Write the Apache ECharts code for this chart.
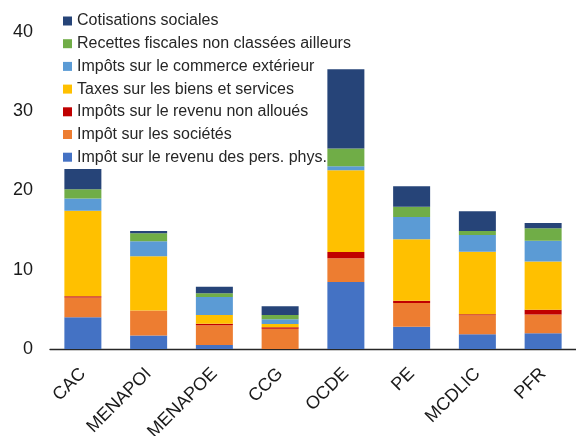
<!DOCTYPE html>
<html>
<head>
<meta charset="utf-8">
<script src="https://cdn.jsdelivr.net/npm/echarts@6/dist/echarts.min.js"></script>
<style>
    html, body { margin: 0; padding: 0; background: #fff; }
    #chart { width: 576px; height: 436px; }
</style>
</head>
<body>
<div id="chart"></div>
<script>
// 类别（x 轴）
const categories = ['CAC', 'MENAPOI', 'MENAPOE', 'CCG', 'OCDE', 'PE', 'MCDLIC', 'PFR'];

// 各项税收（自下而上堆叠）
const impotRevenuPersPhys = [4.0, 1.7, 0.5, 0, 8.45, 2.8, 1.85, 2.0];
const impotSocietes = [2.5, 3.15, 2.5, 2.55, 3.0, 3.0, 2.4, 2.35];
const impotsRevenuNonAlloues = [0.15, 0, 0.2, 0.2, 0.8, 0.3, 0.13, 0.6];
const taxesBiensServices = [10.8, 6.85, 1.1, 0.4, 10.3, 7.75, 7.9, 6.1];
const impotsCommerceExterieur = [1.55, 1.9, 2.25, 0.6, 0.5, 2.8, 2.1, 2.6];
const recettesNonClassees = [1.15, 1.0, 0.5, 0.55, 2.25, 1.3, 0.5, 1.6];
const cotisationsSociales = [2.55, 0.3, 0.8, 1.1, 10.0, 2.6, 2.5, 0.65];

// y 轴刻度
const yMin = 0;
const yMax = 40;
const yStep = 10;

// 系列定义（名称、数据、颜色）
const seriesDefs = [
    { name: 'Impôt sur le revenu des pers. phys.', data: impotRevenuPersPhys, color: '#4472C4' },
    { name: 'Impôt sur les sociétés', data: impotSocietes, color: '#ED7D31' },
    { name: 'Impôts sur le revenu non alloués', data: impotsRevenuNonAlloues, color: '#C00000' },
    { name: 'Taxes sur les biens et services', data: taxesBiensServices, color: '#FFC000' },
    { name: 'Impôts sur le commerce extérieur', data: impotsCommerceExterieur, color: '#5B9BD5' },
    { name: 'Recettes fiscales non classées ailleurs', data: recettesNonClassees, color: '#70AD47' },
    { name: 'Cotisations sociales', data: cotisationsSociales, color: '#264478' }
];

const chart = echarts.init(document.getElementById('chart'));

const option = {
    animation: false,
    textStyle: { fontFamily: 'Liberation Sans, Arial, sans-serif' },
    legend: {
        orient: 'vertical',
        left: 63,
        top: 12,
        padding: 0,
        itemWidth: 9,
        itemHeight: 9,
        itemGap: 4.7,
        icon: 'rect',
        // 图例顺序与堆叠顺序相反
        data: seriesDefs.map(s => s.name).reverse(),
        textStyle: {
            fontSize: 16,
            lineHeight: 18,
            color: '#262626',
            fontFamily: 'Liberation Sans, Arial, sans-serif'
        }
    },
    grid: {
        left: 50,
        right: 0,
        top: 32,
        bottom: 87,
        containLabel: false,
        outerBoundsMode: 'none'
    },
    xAxis: {
        type: 'category',
        data: categories,
        axisLine: { lineStyle: { color: '#262626', width: 1.3 } },
        axisTick: { inside: true, length: 5, lineStyle: { color: '#262626' } },
        axisLabel: {
            rotate: 45,
            margin: 22,
            fontSize: 18,
            color: '#1a1a1a',
            interval: 0
        }
    },
    yAxis: {
        type: 'value',
        min: yMin,
        max: yMax,
        interval: yStep,
        axisLine: { show: false },
        axisTick: { show: false },
        splitLine: { show: false },
        axisLabel: {
            fontSize: 18,
            margin: 17,
            color: '#1a1a1a'
        }
    },
    series: seriesDefs.map(s => ({
        name: s.name,
        type: 'bar',
        stack: 'total',
        barWidth: 37,
        data: s.data,
        itemStyle: { color: s.color }
    }))
};

chart.setOption(option);
</script>
</body>
</html>
